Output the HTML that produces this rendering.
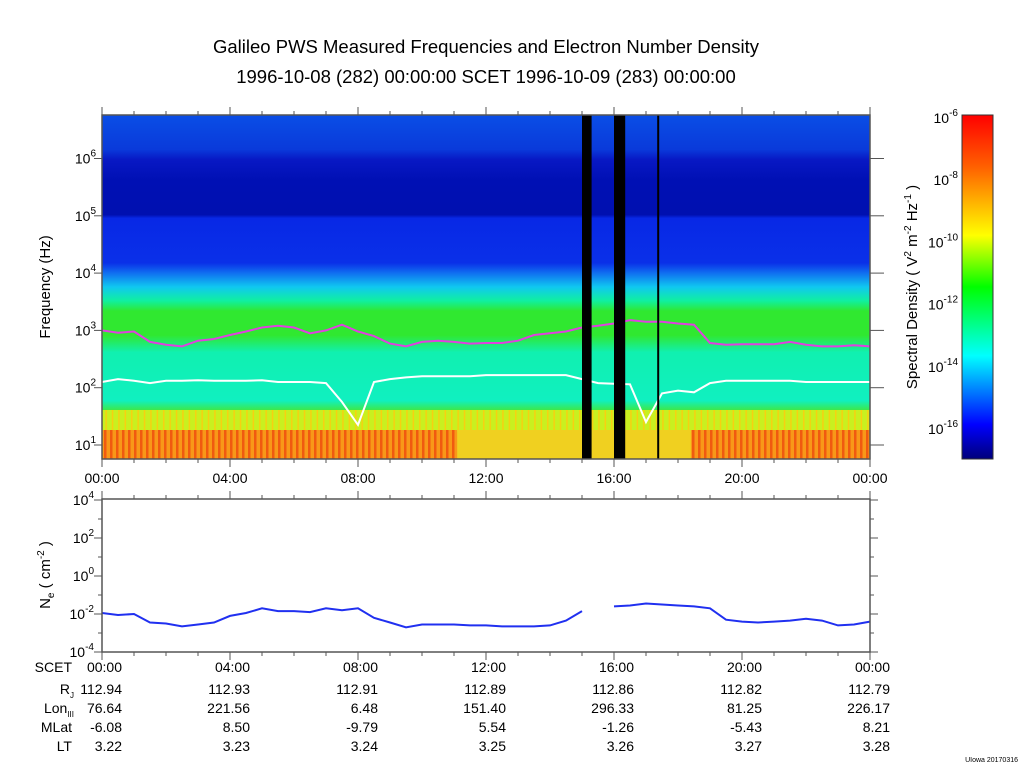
<!DOCTYPE html>
<html><head><meta charset="utf-8"><style>
body{margin:0;background:#fff;}
svg text{font-family:"Liberation Sans",sans-serif;fill:#000;}
</style></head><body>
<svg id="c" width="1024" height="767" xmlns="http://www.w3.org/2000/svg">
<defs>
<linearGradient id="bg" x1="0" y1="115" x2="0" y2="459" gradientUnits="userSpaceOnUse">
<stop offset="0" stop-color="#0a4ee6"/>
<stop offset="0.10" stop-color="#0a3ada"/>
<stop offset="0.13" stop-color="#0818c4"/>
<stop offset="0.19" stop-color="#0010b4"/>
<stop offset="0.29" stop-color="#0010b0"/>
<stop offset="0.30" stop-color="#0828e6"/>
<stop offset="0.43" stop-color="#0a30e8"/>
<stop offset="0.46" stop-color="#1070f0"/>
<stop offset="0.50" stop-color="#10c8f0"/>
<stop offset="0.54" stop-color="#10f0a0"/>
<stop offset="0.57" stop-color="#30e830"/>
<stop offset="0.64" stop-color="#30e830"/>
<stop offset="0.69" stop-color="#10f0b0"/>
<stop offset="0.83" stop-color="#10f0c0"/>
<stop offset="0.86" stop-color="#40e840"/>
<stop offset="0.865" stop-color="#f0f020"/>
<stop offset="0.92" stop-color="#b0f030"/>
<stop offset="0.925" stop-color="#f8b010"/>
<stop offset="1" stop-color="#f8a010"/>
</linearGradient>
<pattern id="orng" width="6" height="30" patternUnits="userSpaceOnUse">
<rect width="6" height="30" fill="#f89818"/><rect x="2" width="2.5" height="30" fill="#f05a10"/>
</pattern>
<pattern id="ylw" width="6.4" height="20" patternUnits="userSpaceOnUse">
<rect width="6.4" height="20" fill="#c8f020"/><rect x="3" width="1.5" height="20" fill="#f8d010"/>
</pattern>
<linearGradient id="cb" x1="0" y1="459" x2="0" y2="115" gradientUnits="userSpaceOnUse">
<stop offset="0" stop-color="#00007a"/><stop offset="0.1" stop-color="#0000ff"/>
<stop offset="0.3" stop-color="#00ffff"/><stop offset="0.5" stop-color="#00ff00"/>
<stop offset="0.65" stop-color="#ffff00"/><stop offset="0.85" stop-color="#ff6000"/>
<stop offset="1" stop-color="#ff0000"/>
</linearGradient>
</defs>
<text x="486" y="53" font-size="18.5" text-anchor="middle">Galileo PWS Measured Frequencies and Electron Number Density</text>
<text x="486" y="83" font-size="18.5" text-anchor="middle">1996-10-08 (282) 00:00:00 SCET 1996-10-09 (283) 00:00:00</text>
<g id="spec">
<rect x="102" y="115" width="768" height="344" fill="url(#bg)"/>
<rect x="102" y="410" width="768" height="20" fill="url(#ylw)"/>
</g>
<g id="marks"></g>
<g id="axes"></g>
<rect x="962" y="115" width="31" height="344" fill="url(#cb)" stroke="#333"/>
<text transform="translate(917,287) rotate(-90)" font-size="15" text-anchor="middle">Spectral Density ( V<tspan dy="-6" font-size="10">2</tspan><tspan dy="6"> m</tspan><tspan dy="-6" font-size="10">-2</tspan><tspan dy="6"> Hz</tspan><tspan dy="-6" font-size="10">-1</tspan><tspan dy="6"> )</tspan></text>
<text transform="translate(50,287) rotate(-90)" font-size="15" text-anchor="middle">Frequency (Hz)</text>
<text transform="translate(50,575) rotate(-90)" font-size="15" text-anchor="middle">N<tspan dy="4" font-size="10">e</tspan><tspan dy="-4"> ( cm</tspan><tspan dy="-6" font-size="10">-2</tspan><tspan dy="6"> )</tspan></text>
<text x="1018" y="762" font-size="7" text-anchor="end">UIowa 20170316</text>
</svg>
<script>
const hours=[0,0.5,1,1.5,2,2.5,3,3.5,4,4.5,5,5.5,6,6.5,7,7.5,8,8.5,9,9.5,10,10.5,11,11.5,12,12.5,13,13.5,14,14.5,15,15.5,16,16.5,17,17.5,18,18.5,19,19.5,20,20.5,21,21.5,22,22.5,23,23.5,24];
const fpeLog=[3.0,2.96,2.98,2.8,2.75,2.72,2.82,2.85,2.92,2.98,3.05,3.08,3.05,2.95,3.0,3.1,2.98,2.9,2.77,2.72,2.8,2.82,2.8,2.77,2.78,2.78,2.82,2.92,2.95,2.98,3.05,3.08,3.12,3.18,3.15,3.15,3.12,3.1,2.78,2.75,2.76,2.76,2.76,2.8,2.75,2.72,2.72,2.74,2.72];
const whiteLog=[2.1,2.15,2.12,2.08,2.12,2.12,2.13,2.12,2.12,2.12,2.13,2.1,2.1,2.1,2.08,1.75,1.35,2.1,2.15,2.18,2.2,2.2,2.2,2.2,2.22,2.22,2.22,2.22,2.22,2.22,2.15,2.08,2.07,2.06,1.4,1.9,1.95,1.92,2.08,2.12,2.12,2.12,2.12,2.12,2.1,2.1,2.1,2.1,2.1];
const neLog=[-1.95,-2.05,-2.0,-2.45,-2.5,-2.65,-2.55,-2.45,-2.1,-1.95,-1.7,-1.85,-1.85,-1.9,-1.7,-1.8,-1.7,-2.2,-2.45,-2.7,-2.55,-2.55,-2.55,-2.6,-2.6,-2.65,-2.65,-2.65,-2.6,-2.35,-1.85,null,-1.6,-1.55,-1.45,-1.5,-1.55,-1.6,-1.7,-2.3,-2.4,-2.45,-2.4,-2.35,-2.25,-2.35,-2.6,-2.55,-2.4];
const gapHours=[[15.0,15.3],[16.0,16.35],[17.35,17.4]];
const orangeSpans=[[0,11.1],[18.4,24]];
const xTickLabels=["00:00","04:00","08:00","12:00","16:00","20:00","00:00"];
const fExps=[1,2,3,4,5,6];
const neExps=[-4,-2,0,2,4];
const cbExps=[-6,-8,-10,-12,-14,-16];
const rowNames=["RJ","Lon","MLat","LT"];
const rjVals=["112.94","112.93","112.91","112.89","112.86","112.82","112.79"];
const lonVals=["76.64","221.56","6.48","151.40","296.33","81.25","226.17"];
const mlatVals=["-6.08","8.50","-9.79","5.54","-1.26","-5.43","8.21"];
const ltVals=["3.22","3.23","3.24","3.25","3.26","3.27","3.28"];

const NS="http://www.w3.org/2000/svg";
const X0=102,X1=870;
const x=h=>X0+h*(X1-X0)/24;
const yF=l=>445-(l-1)*57.3;
const yN=l=>576-l*19;
const yC=e=>117+(-6-e)*31.1;
function mk(tag,attrs,parent,txt){const e=document.createElementNS(NS,tag);for(const k in attrs)e.setAttribute(k,attrs[k]);if(txt!==undefined)e.textContent=txt;parent.appendChild(e);return e;}
const marks=document.getElementById('marks'),axes=document.getElementById('axes');

orangeSpans.forEach(s=>{
 const r=mk('rect',{x:x(s[0]),y:430,width:x(s[1])-x(s[0]),height:29,fill:'url(#orng)'},marks);
 
 
});
const yb=mk('rect',{x:x(11.1),y:430,width:x(18.4)-x(11.1),height:29,fill:'#f0d020'},marks);



function line(arr,yfn,color,name,w){
 let d='',pen=false;
 arr.forEach((v,i)=>{if(v===null){pen=false;return;}d+=(pen?'L':'M')+x(hours[i]).toFixed(1)+' '+yfn(v).toFixed(1)+' ';pen=true;});
 const p=mk('path',{d:d,fill:'none',stroke:color,'stroke-width':w},marks);
 
 
}
line(fpeLog,yF,'#e040e0','plasma-frequency-line',2);
line(whiteLog,yF,'#ffffff','cyclotron-line',2);
gapHours.forEach(g=>{
 const r=mk('rect',{x:x(g[0]),y:115,width:Math.max(2,x(g[1])-x(g[0])),height:344,fill:'#000'},marks);
 
 
});
line(neLog,yN,'#2030f0','electron-density-line',2);

[[115,459],[499,652]].forEach((b,k)=>{
 const r=mk('rect',{x:X0,y:b[0],width:X1-X0,height:b[1]-b[0],fill:'none',stroke:'#555','stroke-width':1.5},axes);
 
 
 for(let h=0;h<=24;h++){const L=h%4==0?8:4;
  mk('line',{x1:x(h),x2:x(h),y1:b[0],y2:b[0]-L,stroke:'#555'},axes);
  mk('line',{x1:x(h),x2:x(h),y1:b[1],y2:b[1]+L,stroke:'#555'},axes);}
});
fExps.forEach(e=>{const y=yF(e);
 mk('line',{x1:X0-8,x2:X0,y1:y,y2:y,stroke:'#555'},axes);
 mk('line',{x1:X1,x2:X1+14,y1:y,y2:y,stroke:'#555'},axes);
 const t=mk('text',{x:96,y:y+5,'font-size':14,'text-anchor':'end'},axes);
 
 
 t.innerHTML='10<tspan dy="-7" font-size="10">'+e+'</tspan>';
});
neExps.forEach((e,i)=>{const y=yN(e);
 mk('line',{x1:X0-8,x2:X0,y1:y,y2:y,stroke:'#555'},axes);
 mk('line',{x1:X1,x2:X1+8,y1:y,y2:y,stroke:'#555'},axes);
 if(i<neExps.length-1){const ym=y-19;mk('line',{x1:X0-4,x2:X0,y1:ym,y2:ym,stroke:'#555'},axes);mk('line',{x1:X1,x2:X1+4,y1:ym,y2:ym,stroke:'#555'},axes);}
 const t=mk('text',{x:94,y:y+5,'font-size':14,'text-anchor':'end'},axes);
 
 
 t.innerHTML='10<tspan dy="-7" font-size="10">'+e+'</tspan>';
});
cbExps.forEach(e=>{
 const t=mk('text',{x:958,y:yC(e)+6,'font-size':14,'text-anchor':'end'},axes);
 
 
 t.innerHTML='10<tspan dy="-7" font-size="10">'+e+'</tspan>';
});
xTickLabels.forEach((s,i)=>{
 const t=mk('text',{x:x(i*4),y:483,'font-size':14,'text-anchor':'middle'},axes,s);
 
 
});
const rowsY=[667,689,708,727,746];
const lab=mk('text',{x:72,y:rowsY[0]+5,'font-size':14,'text-anchor':'end'},axes,'SCET');


const labHtml=['R<tspan dy="4" font-size="8">J</tspan>','Lon<tspan dy="4" font-size="8">III</tspan>','MLat','LT'];
labHtml.forEach((h,i)=>{
 const t=mk('text',{x:i<2?74:72,y:rowsY[i+1]+5,'font-size':14,'text-anchor':'end'},axes);
 
 
 t.innerHTML=h;
});
xTickLabels.forEach((s,k)=>{
 const t=mk('text',{x:122+128*k,y:rowsY[0]+5,'font-size':14,'text-anchor':'end'},axes,s);
 
 
});
[rjVals,lonVals,mlatVals,ltVals].forEach((arr,r)=>{
 arr.forEach((v,k)=>{
  const t=mk('text',{x:122+128*k,y:rowsY[r+1]+5,'font-size':14,'text-anchor':'end'},axes,v);
  
  
 });
});
</script>
</body></html>
